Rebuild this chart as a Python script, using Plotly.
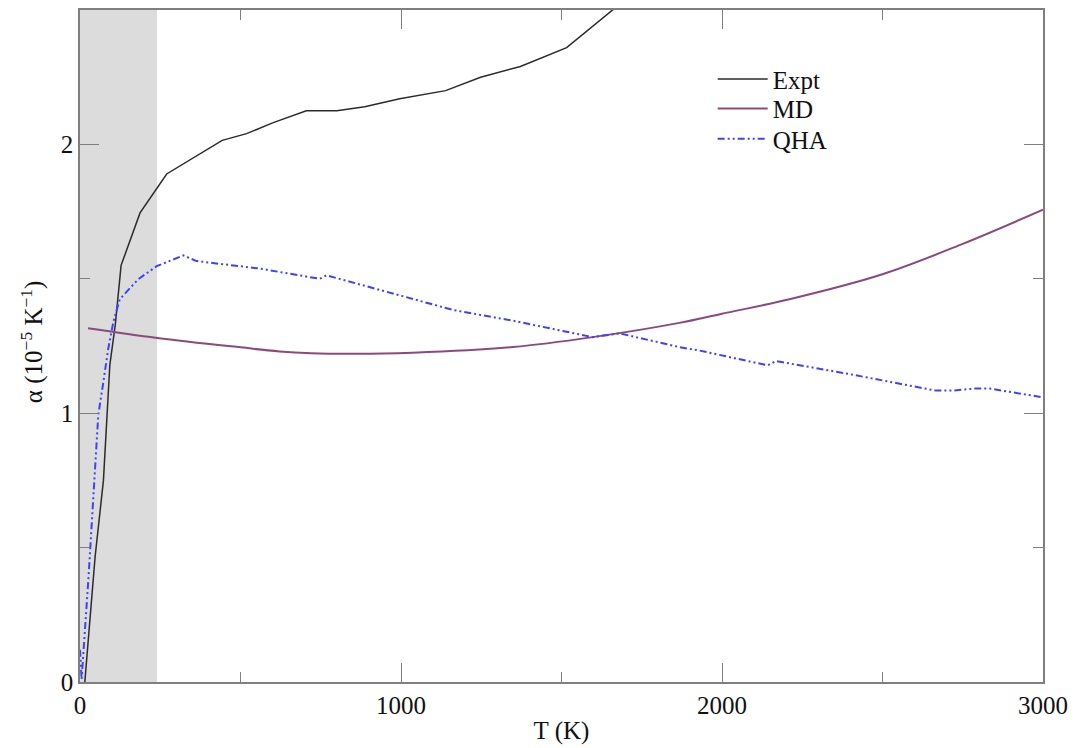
import plotly.graph_objects as go

# Experimental data
expt_T = [15, 47, 73, 93, 110, 128, 187, 270, 443, 519, 600, 705, 800, 887, 996, 1139, 1248, 1372, 1516, 1656, 1700]
expt_a = [0.0, 0.465, 0.75, 1.18, 1.33, 1.55, 1.745, 1.89, 2.015, 2.04, 2.08, 2.125, 2.125, 2.14, 2.17, 2.2, 2.25, 2.29, 2.36, 2.5, 2.54]

# MD data
md_T = [25, 240, 500, 622, 830, 1037, 1349, 1597, 1867, 2000, 2210, 2500, 2750, 3000]
md_a = [1.316, 1.28, 1.245, 1.23, 1.221, 1.225, 1.246, 1.283, 1.336, 1.37, 1.424, 1.517, 1.63, 1.757]

# QHA data
qha_T = [0, 5, 26, 41, 57, 73, 88, 104, 124, 181, 239, 322, 363, 560, 622, 747, 768, 996, 1162,
         1349, 1597, 1681, 1867, 1930, 2142, 2168, 2386, 2666, 2718, 2791, 2832, 3000]
qha_a = [0.12, 0.01, 0.38, 0.686, 0.994, 1.118, 1.24, 1.34, 1.424, 1.498, 1.547, 1.587, 1.566, 1.538, 1.525,
         1.50, 1.513, 1.437, 1.384, 1.344, 1.283, 1.297, 1.246, 1.233, 1.178, 1.194, 1.148, 1.084, 1.084,
         1.092, 1.092, 1.059]

shade_T = [0, 240]

FONT = "Liberation Serif"
AXC = "#7f7f7f"
FS = 25

fig = go.Figure()
fig.add_trace(go.Scatter(x=expt_T, y=expt_a, mode="lines", name="Expt", legend="legend",
                         line=dict(color="#2b2b2b", width=1.5)))
fig.add_trace(go.Scatter(x=md_T, y=md_a, mode="lines", name="MD", line_shape="spline", legend="legend2",
                         line=dict(color="#8b4a7b", width=2)))
fig.add_trace(go.Scatter(x=qha_T, y=qha_a, mode="lines", name="QHA", legend="legend3",
                         line=dict(color="#4040ff", width=2, dash="7px,3px,2px,3px,2px,3px")))

fig.add_vrect(x0=shade_T[0], x1=shade_T[1], fillcolor="#dcdcdc", line_width=0, layer="below")

axis_common = dict(showgrid=False, zeroline=False, showline=True, linecolor=AXC, linewidth=1.5,
                   mirror="allticks", ticks="inside", ticklen=19, tickcolor=AXC, tickwidth=1.2,
                   tickfont=dict(family=FONT, size=FS, color="#111"))

fig.update_xaxes(range=[0, 3000], dtick=1000, tick0=0,
                 minor=dict(dtick=500, ticklen=10, ticks="inside", tickcolor=AXC, tickwidth=1.2),
                 title=dict(text="T (K)", font=dict(family=FONT, size=FS, color="#111"), standoff=4),
                 **axis_common)
fig.update_yaxes(range=[0, 2.5], dtick=1, tick0=0,
                 minor=dict(dtick=0.5, ticklen=10, ticks="inside", tickcolor=AXC, tickwidth=1.2),
                 **axis_common)

fig.add_annotation(text="α (10<sup>−5</sup> K<sup>−1</sup>)", textangle=-90,
                   xref="paper", yref="paper", x=-0.05, y=0.507, xanchor="center", yanchor="middle",
                   showarrow=False, font=dict(family=FONT, size=FS, color="#111"))

leg = dict(xanchor="left", yanchor="middle", bgcolor="rgba(0,0,0,0)", itemwidth=50,
           font=dict(family=FONT, size=FS, color="#111"))
fig.update_layout(
    width=1076, height=748,
    margin=dict(l=80, r=32, t=8, b=62),
    plot_bgcolor="white", paper_bgcolor="white",
    font=dict(family=FONT, size=FS, color="#111"),
    legend=dict(x=0.657, y=0.897, **leg),
    legend2=dict(x=0.657, y=0.853, **leg),
    legend3=dict(x=0.657, y=0.808, **leg),
    showlegend=True,
)

fig.write_html("out.html")
